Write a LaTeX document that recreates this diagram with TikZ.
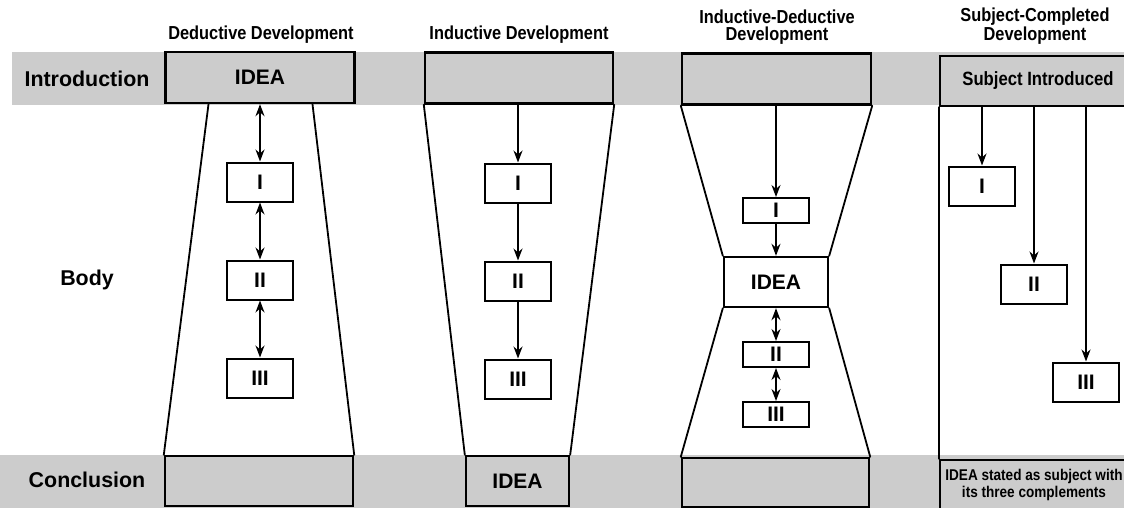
\documentclass[tikz,border=0pt]{standalone}
\usepackage{fontspec}
\setmainfont{Liberation Sans}
\newfontfamily\condfont{Liberation Sans}[FakeStretch=0.87]
\usetikzlibrary{arrows.meta}

\begin{document}
\begin{tikzpicture}[x=0.5pt,y=-0.5pt,>={Stealth[length=6pt,width=4.5pt]},line cap=round]
% Styles
\tikzstyle{band}=[fill=black!20]
\tikzstyle{part box}=[draw,line width=1.2pt,fill=black!20,inner sep=0pt,font=\bfseries\fontsize{10.5}{12}\selectfont]
\tikzstyle{roman box}=[draw,fill=white,line width=1pt,minimum width=33pt,minimum height=19.5pt,inner sep=0pt,font=\bfseries\fontsize{10.5}{12}\selectfont]
\tikzstyle{side line}=[line width=0.9pt]
\tikzstyle{link}=[line width=0.8pt]
\tikzstyle{title text}=[anchor=south,align=center,inner sep=2pt,font=\condfont\bfseries\fontsize{9.4}{8.7}\selectfont]
\tikzstyle{row text}=[font=\bfseries\fontsize{10.7}{12}\selectfont]

\useasboundingbox (0,0) rectangle (1124,508);

% the gray bands
\fill[band] (12,52) rectangle (1124,105);
\fill[band] (0,455) rectangle (1124,508);

% row labels
\node[row text] (intro) at (87,79) {Introduction};
\node[row text] (body) at (87,280) {Body};
\node[row text] (concl) at (87,480) {Conclusion};

% deductive development
\node[title text] (dtitle) at (261,48) {Deductive Development};
\node[part box,minimum width=94.5pt,minimum height=25.5pt] (dtop) at (260,77.5) {IDEA};
\node[part box,minimum width=94pt,minimum height=25pt] (dbot) at (259,481) {};
\draw[side line] ([xshift=-25.75pt]dtop.south) -- (dbot.north west);
\draw[side line] ([xshift=26.25pt]dtop.south) -- (dbot.north east);
\foreach \n/\y/\t in {1/182/I,2/280/II,3/378/III}
\node[roman box] (d\n) at (260,\y) {\t};
\draw[link,<->] (dtop) -- (d1);
\draw[link,<->] (d1) -- (d2);
\draw[link,<->] (d2) -- (d3);

% inductive development
\node[title text] (ititle) at (519,48) {Inductive Development};
\node[part box,minimum width=94pt,minimum height=25.5pt] (itop) at (519,78) {};
\node[part box,minimum width=51.5pt,minimum height=25pt] (ibot) at (517.5,481) {IDEA};
\draw[side line] (itop.south west) -- (ibot.north west);
\draw[side line] (itop.south east) -- (ibot.north east);
\foreach \n/\y/\t in {1/183/I,2/281/II,3/379/III}
\node[roman box] (i\n) at (518,\y) {\t};
\draw[link,->] (itop.south -| i1) -- (i1);
\draw[link,->] (i1) -- (i2);
\draw[link,->] (i2) -- (i3);

% inductive-deductive development
\node[title text] (idtitle) at (777,49) {Inductive-Deductive\\Development};
\node[part box,minimum width=94.5pt,minimum height=25.5pt] (idtop) at (776.5,79) {};
\node[part box,fill=white,minimum width=52pt,minimum height=25pt] (idcore) at (776,282) {IDEA};
\node[part box,minimum width=93.5pt,minimum height=24.5pt] (idbot) at (775.5,482.5) {};
\draw[side line] (idtop.south west) -- (idcore.north west);
\draw[side line] (idtop.south east) -- (idcore.north east);
\draw[side line] (idcore.south west) -- (idbot.north west);
\draw[side line] (idcore.south east) -- (idbot.north east);
\foreach \n/\y/\t in {1/210.5/I,2/354.5/II,3/414.5/III}
\node[roman box,minimum height=12.5pt] (id\n) at (776,\y) {\t};
\draw[link,->] (idtop.south -| id1) -- (id1);
\draw[link,->] (id1) -- (idcore);
\draw[link,<->] (idcore) -- (id2);
\draw[link,<->] (id2) -- (id3);

% subject-completed development
\node[title text] (stitle) at (1035,49) {Subject-Completed\\Development};
\node[part box,minimum width=98pt,minimum height=25pt,font=\condfont\bfseries\fontsize{9.6}{11}\selectfont] (stop) at (1038,81) {Subject Introduced};
\node[part box,minimum width=98pt,minimum height=25pt] (sbot) at (1038,485) {};
\node[align=center,inner sep=0pt,font=\condfont\bfseries\fontsize{7.8}{8.5}\selectfont] (stext) at (1034,485) {IDEA stated as subject with\\its three complements};
\draw[side line] (stop.south west) -- (sbot.north west);
\foreach \n/\x/\y/\t in {1/982/186/I,2/1034/284/II,3/1086/382/III}
\node[roman box] (s\n) at (\x,\y) {\t};
\foreach \n in {1,2,3}
\draw[link,->] (stop.south -| s\n) -- (s\n);

\end{tikzpicture}
\end{document}
